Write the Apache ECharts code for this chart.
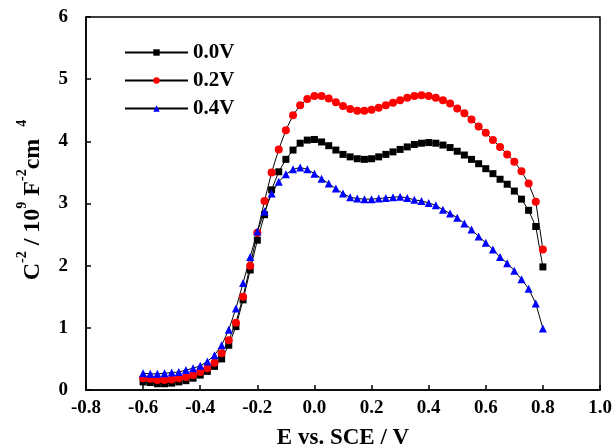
<!DOCTYPE html>
<html>
<head>
<meta charset="utf-8">
<script src="https://cdn.jsdelivr.net/npm/echarts@6/dist/echarts.min.js"></script>
<style>html,body{margin:0;padding:0;background:#fff}#c{width:615px;height:448px}</style>
</head>
<body>
<div id="c"></div>
<script>
var potentials = [-0.6,-0.575,-0.55,-0.525,-0.5,-0.475,-0.45,-0.425,-0.4,-0.375,-0.35,-0.325,-0.3,-0.275,-0.25,-0.225,-0.2,-0.175,-0.15,-0.125,-0.1,-0.075,-0.05,-0.025,0,0.025,0.05,0.075,0.1,0.125,0.15,0.175,0.2,0.225,0.25,0.275,0.3,0.325,0.35,0.375,0.4,0.425,0.45,0.475,0.5,0.525,0.55,0.575,0.6,0.625,0.65,0.675,0.7,0.725,0.75,0.775,0.8];
var v00 = [0.13,0.12,0.10,0.10,0.11,0.13,0.15,0.19,0.24,0.30,0.38,0.50,0.72,1.02,1.45,1.93,2.41,2.82,3.22,3.51,3.71,3.86,3.97,4.02,4.03,3.99,3.93,3.86,3.79,3.75,3.72,3.71,3.72,3.75,3.79,3.83,3.87,3.91,3.95,3.97,3.98,3.97,3.94,3.90,3.84,3.78,3.71,3.64,3.56,3.48,3.39,3.31,3.20,3.07,2.89,2.63,1.98];
var v02 = [0.19,0.18,0.16,0.16,0.17,0.19,0.21,0.24,0.29,0.35,0.44,0.59,0.80,1.08,1.50,2.00,2.53,3.04,3.50,3.87,4.18,4.42,4.58,4.68,4.73,4.73,4.69,4.63,4.57,4.52,4.49,4.49,4.51,4.54,4.58,4.62,4.66,4.70,4.73,4.74,4.73,4.70,4.66,4.61,4.53,4.45,4.35,4.24,4.14,4.02,3.91,3.79,3.67,3.52,3.32,3.03,2.26];
var v04 = [0.27,0.26,0.26,0.27,0.28,0.29,0.32,0.35,0.39,0.46,0.56,0.72,0.97,1.31,1.72,2.14,2.55,2.87,3.16,3.35,3.47,3.55,3.58,3.55,3.48,3.40,3.32,3.24,3.16,3.10,3.08,3.07,3.07,3.08,3.09,3.10,3.11,3.09,3.06,3.04,3.01,2.97,2.90,2.84,2.77,2.68,2.58,2.47,2.37,2.26,2.14,2.04,1.92,1.78,1.63,1.39,0.99];
var seriesNames = ['0.0V','0.2V','0.4V'];

function pairs(ys){ return potentials.map(function(x,i){ return [x, ys[i]]; }); }
var font = '"Liberation Serif","Times New Roman",serif';
var chart = echarts.init(document.getElementById('c'), null, {renderer:'canvas'});
function mk(name, ys, symbol, size, color){
  return {
    name: name, type:'line', data: pairs(ys), symbol: symbol, symbolSize: size,
    showSymbol: true, smooth: false,
    lineStyle:{color:'#000', width:1},
    itemStyle:{color: color, borderWidth:0},
    emphasis:{disabled:true}, animation:false
  };
}
chart.setOption({
  animation:false,
  grid:{left:86, right:15, top:17, bottom:58, outerBoundsMode:'none', containLabel:false,
    show:true, borderColor:'#000', borderWidth:1.5, backgroundColor:'transparent'},
  legend:{
    orient:'vertical', left:124, top:42, padding:0, itemWidth:63, itemHeight:8, itemGap:7,
    textStyle:{fontFamily:font, fontWeight:'bold', fontSize:21, color:'#000'},
    data: seriesNames
  },
  xAxis:{
    type:'value', min:-0.8, max:1.0, interval:0.2,
    name:'E vs. SCE / V', nameLocation:'middle', nameGap:37,
    nameTextStyle:{fontFamily:font, fontWeight:'bold', fontSize:23, color:'#000'},
    axisLine:{show:true, onZero:false, lineStyle:{color:'#000', width:1.5}},
    axisTick:{show:true, inside:true, length:5, lineStyle:{color:'#000', width:1.5}},
    axisLabel:{fontFamily:font, fontWeight:'bold', fontSize:19, color:'#000', margin:9,
      formatter:function(v){ return (Math.abs(v)<1e-9?0:v).toFixed(1); }},
    splitLine:{show:false}
  },
  yAxis:{
    type:'value', min:0, max:6, interval:1,
    axisLine:{show:true, onZero:false, lineStyle:{color:'#000', width:1.5}},
    axisTick:{show:true, inside:true, length:5, lineStyle:{color:'#000', width:1.5}},
    axisLabel:{fontFamily:font, fontWeight:'bold', fontSize:19, color:'#000', margin:18},
    splitLine:{show:false}
  },
  graphic:[{
    type:'text', x:30, y:200, rotation:Math.PI/2,
    style:{
      text:'{b|C}{s|-2}{b| / 10}{s|9}{b| F}{s|-2}{b|cm}{g| }{s|4}',
      align:'center', verticalAlign:'middle',
      rich:{
        b:{fontFamily:font, fontWeight:'bold', fontSize:24, fill:'#000', lineHeight:30, verticalAlign:'bottom'},
        s:{fontFamily:font, fontWeight:'bold', fontSize:14, fill:'#000', lineHeight:30, verticalAlign:'top'},
        g:{fontFamily:font, fontSize:24, lineHeight:30, width:12}
      }
    }
  }],
  series:[
    mk(seriesNames[0], v00, 'rect', 7, '#000'),
    mk(seriesNames[1], v02, 'circle', 8, '#ff0000'),
    mk(seriesNames[2], v04, 'triangle', 8, '#0000ff')
  ]
});
</script>
</body>
</html>
